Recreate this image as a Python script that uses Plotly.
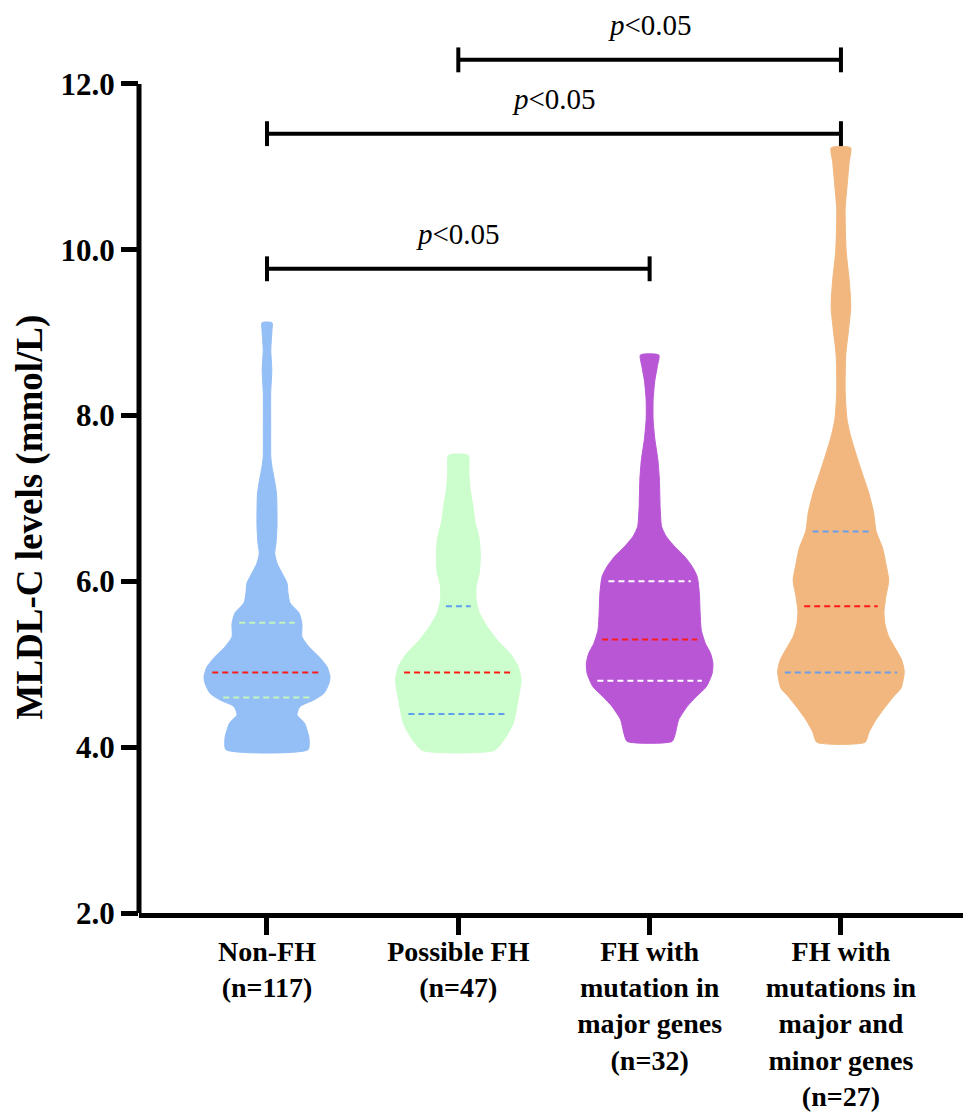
import numpy as np
import plotly.graph_objects as go

# ---------------- data ----------------
categories = ["Non-FH<br>(n=117)", "Possible FH<br>(n=47)",
              "FH with<br>mutation in<br>major genes<br>(n=32)",
              "FH with<br>mutations in<br>major and<br>minor genes<br>(n=27)"]

# violin outlines: MLDL-C level (mmol/L) and half-width (density, px units)
nonfh_y = [3.97, 4.11, 4.29, 4.39, 4.49, 4.57, 4.65, 4.77, 4.85, 4.97, 5.09, 5.21, 5.33, 5.49, 5.62,
           5.74, 5.86, 5.98, 6.10, 6.22, 6.34, 6.46, 6.66, 6.86, 7.06, 7.22, 7.38, 7.50, 7.87, 8.27,
           8.55, 8.79, 9.03, 9.12]
nonfh_w = [41, 42, 37.5, 30, 33, 47, 57, 62, 63, 60, 52, 42, 35, 35, 32,
           23, 21, 20, 15, 10, 7.7, 9, 10, 10, 9.5, 7.5, 5, 3.8, 3.7, 3.7,
           4.8, 3.8, 5, 5]

possible_y = [3.96, 4.09, 4.29, 4.57, 4.81, 4.97, 5.13, 5.29, 5.45, 5.62, 5.78, 5.94, 6.10, 6.34,
              6.54, 6.70, 6.90, 7.10, 7.30, 7.52]
possible_w = [35.8, 45.8, 55, 59.7, 62.8, 60, 51.7, 39, 29, 21, 17.8, 17.8, 21, 22,
              20.5, 17, 14.7, 12, 10.5, 9.7]

major_y = [4.07, 4.17, 4.33, 4.49, 4.61, 4.73, 4.89, 5.01, 5.13, 5.25, 5.41, 5.62, 5.86, 6.06,
           6.18, 6.30, 6.42, 6.54, 6.66, 6.90, 7.22, 7.46, 7.71, 7.95, 8.19, 8.43, 8.59, 8.73]
major_w = [22.5, 25.8, 29, 37.5, 46.7, 56.7, 62.5, 63.3, 61, 55.8, 51.7, 50.5, 49.7, 47.5,
           42.5, 35, 25, 16.7, 12, 10.5, 9.8, 8.3, 5.3, 3.5, 3.5, 5.3, 7.7, 9.2]

minor_y = [4.06, 4.18, 4.33, 4.47, 4.62, 4.71, 4.91, 5.05, 5.20, 5.34, 5.49, 5.63, 5.82, 6.01,
           6.21, 6.40, 6.60, 6.84, 7.08, 7.32, 7.57, 7.76, 7.96, 8.30, 8.73, 9.02, 9.31, 9.60,
           9.99, 10.48, 10.82, 11.06, 11.23]
minor_w = [24.2, 28, 35, 43.3, 53.3, 60, 63.3, 60.8, 54, 47.5, 44, 43, 45, 47.8,
           45, 41.7, 35.3, 32.5, 27.5, 20.8, 14.2, 9.5, 6, 4.2, 4.8, 7.5, 9.8, 8.5,
           5.2, 4.2, 6.5, 8.3, 9.7]

# quartiles: [Q1, median, Q3]
nonfh_q = [4.6, 4.9, 5.5]
possible_q = [4.4, 4.9, 5.7]
major_q = [4.8, 5.3, 6.0]
minor_q = [4.9, 5.7, 6.6]

# significance comparisons: (group a, group b, bracket level)
compare_a = [1, 0, 0]
compare_b = [3, 3, 2]
compare_level = [12.29, 11.40, 9.77]
compare_text = ["<i>p</i>&lt;0.05", "<i>p</i>&lt;0.05", "<i>p</i>&lt;0.05"]

# ---------------- styling ----------------
fills = ["#93bef6", "#ccfdcc", "#b956d6", "#f1b77e"]
quart_colors = ["#c4f5bd", "#5f9ff0", "#ffffff", "#6a9ee8"]
median_color = "#ff1a1a"
PX_PER_CAT = 191.3
FONT = "Liberation Serif"

outlines = [(nonfh_y, nonfh_w), (possible_y, possible_w), (major_y, major_w), (minor_y, minor_w)]
quarts = [nonfh_q, possible_q, major_q, minor_q]

fig = go.Figure()

for i, ((ys, ws), q) in enumerate(zip(outlines, quarts)):
    ys = np.array(ys, dtype=float)
    ws = np.array(ws, dtype=float) / PX_PER_CAT
    xs = np.concatenate([i + ws, (i - ws)[::-1], [i + ws[0]]])
    yy = np.concatenate([ys, ys[::-1], [ys[0]]])
    fig.add_trace(go.Scatter(x=xs, y=yy, mode="lines", fill="toself",
                             fillcolor=fills[i], line=dict(color=fills[i], width=1, shape="spline", smoothing=0.6),
                             hoverinfo="skip", showlegend=False))
    for k, v in enumerate(q):
        hw = (np.interp(v, ys, np.array(outlines[i][1], dtype=float)) - 7) / PX_PER_CAT
        col = median_color if k == 1 else quart_colors[i]
        fig.add_trace(go.Scatter(x=[i - hw, i + hw], y=[v, v], mode="lines",
                                 line=dict(color=col, width=2, dash="6px,4px"),
                                 hoverinfo="skip", showlegend=False))

# y axis line from 2 to 12
fig.add_shape(type="line", xref="paper", yref="y", x0=0, x1=0, y0=2, y1=12,
              line=dict(color="black", width=5))

# significance brackets
TICK = 0.15
for a, b, lv, t in zip(compare_a, compare_b, compare_level, compare_text):
    fig.add_shape(type="line", x0=a, x1=b, y0=lv, y1=lv, line=dict(color="black", width=4))
    fig.add_shape(type="line", x0=a, x1=a, y0=lv - TICK, y1=lv + TICK, line=dict(color="black", width=4))
    fig.add_shape(type="line", x0=b, x1=b, y0=lv - TICK, y1=lv + TICK, line=dict(color="black", width=4))
    fig.add_annotation(x=(a + b) / 2, y=lv, text=t, showarrow=False, yanchor="middle", yshift=35,
                       font=dict(family=FONT, size=29, color="black"))

# y title
fig.add_annotation(xref="paper", yref="y", x=0, y=6.77, xshift=-109, text="<b>MLDL-C levels (mmol/L)</b>",
                   textangle=-90, showarrow=False, xanchor="center", yanchor="middle",
                   font=dict(family=FONT, size=37, color="black"))

fig.update_layout(
    width=963, height=1115,
    margin=dict(l=139, r=0, t=1, b=202),
    paper_bgcolor="white", plot_bgcolor="white",
    showlegend=False,
    xaxis=dict(range=[-0.669, 3.638], tickvals=[0, 1, 2, 3],
               ticktext=["<b>" + c.replace("<br>", "</b><br><b>") + "</b>" for c in categories],
               showline=True, linewidth=5, linecolor="black", ticks="outside", ticklen=17,
               tickwidth=5, tickcolor="black", showgrid=False, zeroline=False, automargin=False,
               ticklabelstandoff=-8,
               tickfont=dict(family=FONT, size=28, color="black")),
    yaxis=dict(range=[2, 13.0], tickvals=[2, 4, 6, 8, 10, 12],
               ticktext=["<b>%.1f</b>" % v for v in [2, 4, 6, 8, 10, 12]],
               showline=False, ticks="outside", ticklen=17, tickwidth=5, tickcolor="black",
               showgrid=False, zeroline=False, automargin=False,
               tickfont=dict(family=FONT, size=31, color="black")),
)

fig.write_html("out.html")
